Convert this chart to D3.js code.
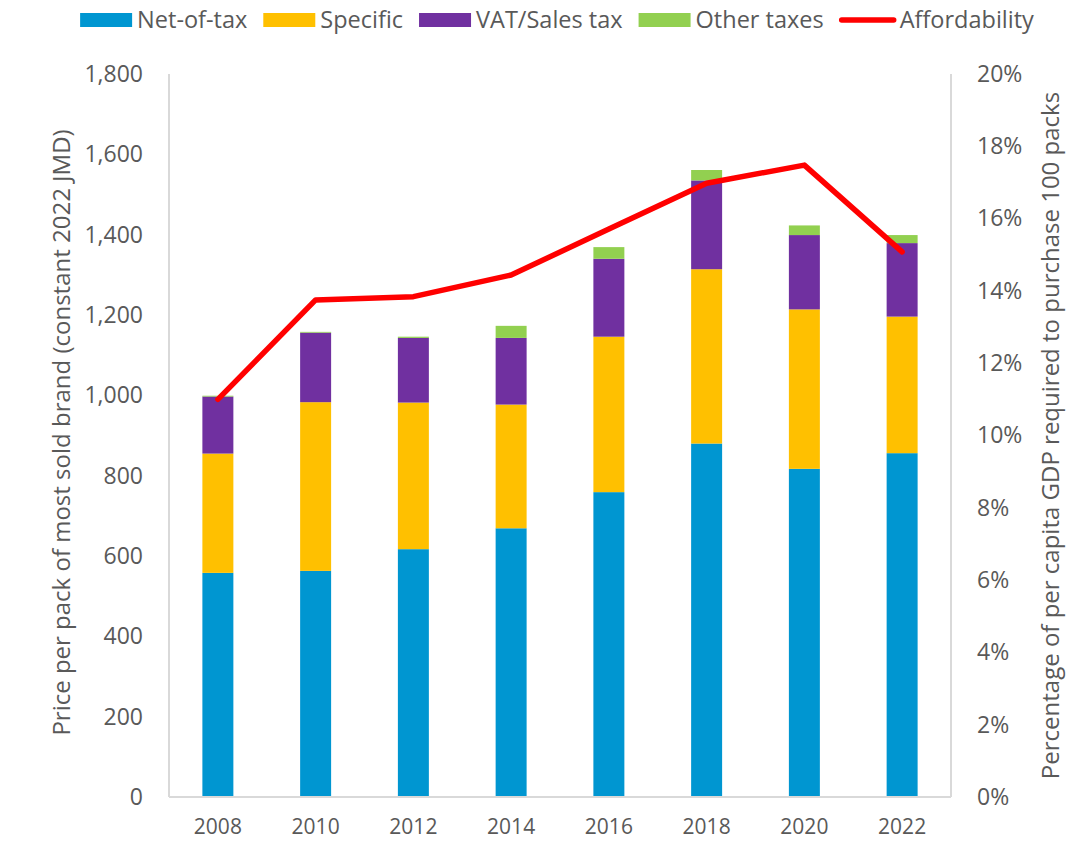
<!DOCTYPE html>
<html><head><meta charset="utf-8">
<script src="https://cdn.jsdelivr.net/npm/d3@7"></script>
<style>
html,body{margin:0;padding:0;background:#fff;}
svg{display:block;font-family:"Open Sans",sans-serif;}
</style></head>
<body><svg id="chart" width="1076" height="855"></svg>
<script>
const years = ["2008","2010","2012","2014","2016","2018","2020","2022"];
const netOfTax = [558,563,617,669,759,880,817,856];
const specificTax = [297,420,365,308,387,434,397,340];
const vatSales = [142,173,161,166,194,221,185,183];
const otherTaxes = [2,2,3,30,29,26,24,20];
const affordability = [11.00,13.75,13.84,14.44,15.71,16.98,17.48,15.08];
const leftTicks = [0,200,400,600,800,1000,1200,1400,1600,1800];
const rightTicks = [0,2,4,6,8,10,12,14,16,18,20];
const seriesNames = ["Net-of-tax","Specific","VAT/Sales tax","Other taxes"];
const seriesColors = ["#0096D1","#FFC000","#7030A0","#92D050"];
const lineName = "Affordability";
const lineColor = "#FF0000";

const svg = d3.select("#chart");
const L = 169, R = 951, T = 74, B = 797;
const textColor = "#595959", axisColor = "#D9D9D9";

const x = d3.scaleBand().domain(years).range([L,R]).paddingInner(0.683).paddingOuter(0.3415);
const y = d3.scaleLinear().domain([0,1800]).range([B,T]);
const y2 = d3.scaleLinear().domain([0,20]).range([B,T]);

const table = years.map((yr,i)=>({year:yr, s0:netOfTax[i], s1:specificTax[i], s2:vatSales[i], s3:otherTaxes[i]}));
const stack = d3.stack().keys(["s0","s1","s2","s3"])(table);

// axis lines
svg.append("line").attr("x1",L).attr("x2",L).attr("y1",T).attr("y2",B).attr("stroke",axisColor).attr("stroke-width",2);
svg.append("line").attr("x1",R).attr("x2",R).attr("y1",T).attr("y2",B).attr("stroke",axisColor).attr("stroke-width",2);

// bars
stack.forEach((layer,k)=>{
  svg.append("g").selectAll("rect").data(layer).join("rect")
    .attr("x",d=>x(d.data.year))
    .attr("width",x.bandwidth())
    .attr("y",d=>y(d[1]))
    .attr("height",d=>y(d[0])-y(d[1]))
    .attr("fill",seriesColors[k]);
});

svg.append("line").attr("x1",L).attr("x2",R).attr("y1",B).attr("y2",B).attr("stroke",axisColor).attr("stroke-width",2);

// line
const line = d3.line().x((d,i)=>x(years[i])+x.bandwidth()/2).y(d=>y2(d));
svg.append("path").datum(affordability).attr("d",line).attr("fill","none")
  .attr("stroke",lineColor).attr("stroke-width",5.5).attr("stroke-linejoin","round").attr("stroke-linecap","round");

// left axis
const ax = d3.axisLeft(y).tickValues(leftTicks).tickSize(0).tickPadding(26).tickFormat(d3.format(","));
const gL = svg.append("g").attr("transform",`translate(${L},0)`).call(ax);
gL.select(".domain").remove();
gL.selectAll("text").attr("fill",textColor).style("font-size","23px").style("font-family","Open Sans");

// right axis
const ax2 = d3.axisRight(y2).tickValues(rightTicks).tickSize(0).tickPadding(26).tickFormat(d=>d+"%");
const gR = svg.append("g").attr("transform",`translate(${R},0)`).call(ax2);
gR.select(".domain").remove();
gR.selectAll("text").attr("fill",textColor).style("font-size","23px").style("font-family","Open Sans");

// bottom axis
const axB = d3.axisBottom(x).tickSize(0).tickPadding(22);
const gB = svg.append("g").attr("transform",`translate(0,${B})`).call(axB);
gB.select(".domain").remove();
gB.selectAll("text").attr("fill",textColor).style("font-size","21px").style("font-family","Open Sans");

// axis titles
svg.append("text").attr("transform",`translate(70,${(T+B)/2-3}) rotate(-90)`)
  .attr("text-anchor","middle").attr("fill",textColor).style("font-size","24px")
  .text("Price per pack of most sold brand (constant 2022 JMD)");
svg.append("text").attr("transform",`translate(1059,${(T+B)/2}) rotate(-90)`)
  .attr("text-anchor","middle").attr("fill",textColor).style("font-size","24px")
  .text("Percentage of per capita GDP required to purchase 100 packs");

// legend
const lg = svg.append("g");
const items = seriesNames.map((n,i)=>({name:n,color:seriesColors[i],type:"rect"})).concat([{name:lineName,color:lineColor,type:"line"}]);
let cx = 0;
const gap = 16, sw = 52, tg = 5;
items.forEach((it,i)=>{
  const g = lg.append("g").attr("transform",`translate(${cx},0)`);
  if(it.type==="rect"){
    g.append("rect").attr("x",0).attr("y",13).attr("width",sw).attr("height",14).attr("fill",it.color);
  } else {
    g.append("line").attr("x1",2).attr("x2",sw+2).attr("y1",20).attr("y2",20).attr("stroke",it.color).attr("stroke-width",5.5).attr("stroke-linecap","round");
  }
  const t = g.append("text").attr("x",sw+tg+(it.type==="line"?3:0)).attr("y",28).attr("fill",textColor).style("font-size","23.5px").text(it.name);
  const w = t.node().getComputedTextLength();
  cx += sw + tg + w + gap + (it.type==="line"?3:0);
});
const totalW = cx - gap;
lg.attr("transform",`translate(${(79+1035)/2 - totalW/2},0)`);
</script></body></html>
